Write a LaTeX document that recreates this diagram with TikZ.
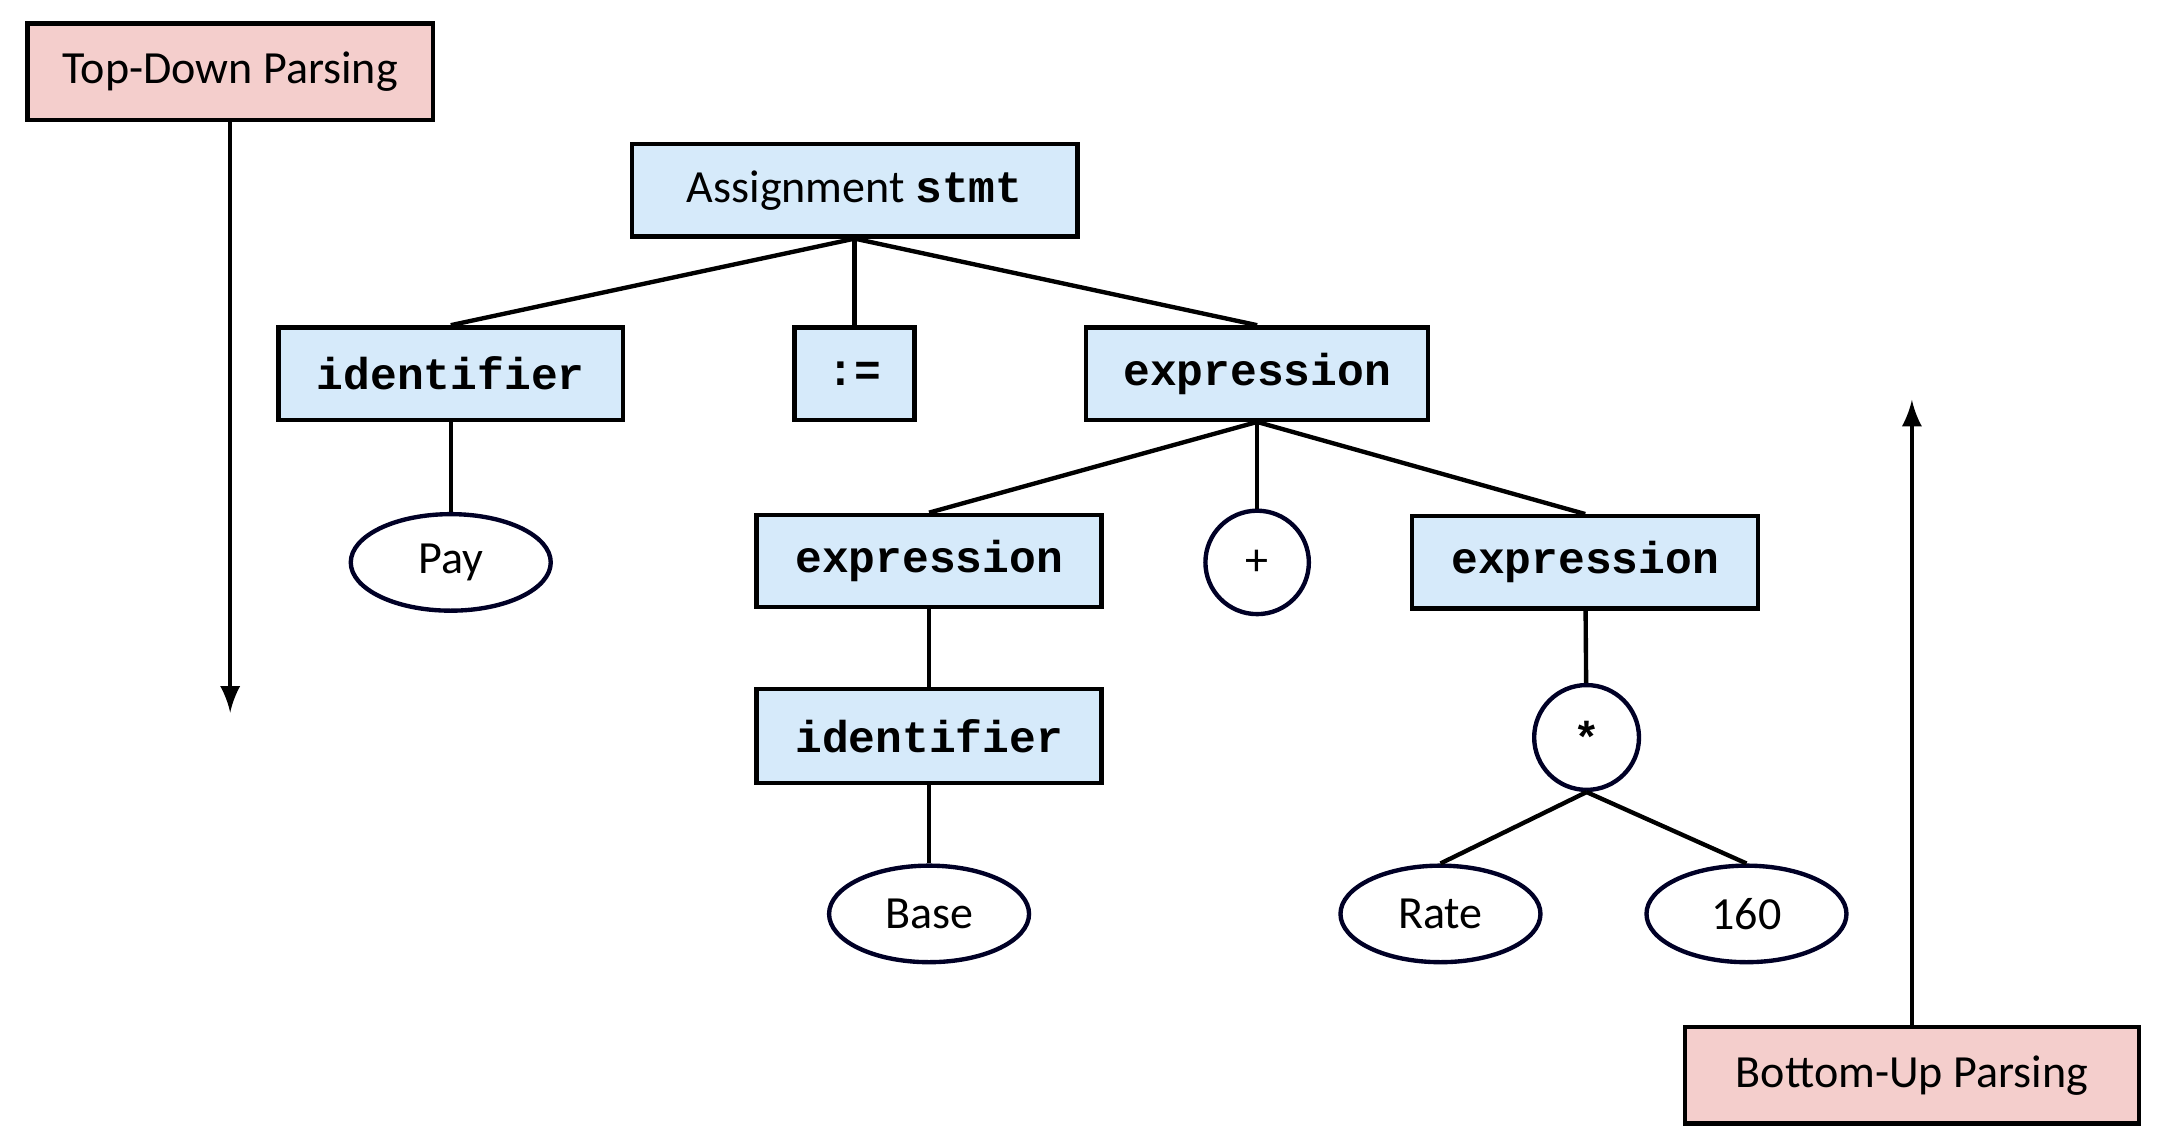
\documentclass[tikz,border=0pt]{standalone}
\usepackage{fontspec}
\setmainfont{Carlito}
\newfontfamily\codefont{Liberation Mono}
\usetikzlibrary{shapes.geometric}
\definecolor{boxblue}{RGB}{214,234,250}
\definecolor{boxpink}{RGB}{244,206,204}
\newcommand{\kw}[1]{{\codefont\bfseries\fontsize{9.2}{11}\selectfont #1}}
\begin{document}
\begin{tikzpicture}[x=0.01cm,y=-0.01cm,line width=0.9pt,
    font=\fontsize{9.5}{11}\selectfont,
    sym/.style={draw,fill=boxblue,minimum height=0.67cm,inner sep=0pt},
    leaf/.style={draw=black!85!blue,ellipse,minimum width=1.45cm,minimum height=0.7cm,inner sep=0pt},
    op/.style={draw=black!85!blue,circle,minimum size=0.75cm,inner sep=0pt},
    dir/.style={draw,fill=boxpink,minimum height=0.7cm,inner sep=0pt}]
    \useasboundingbox (0,0) rectangle (1567,830);

    \node[dir,minimum width=2.94cm] at (167,52) (topdown) {Top-Down Parsing};
    \node[dir,minimum width=3.29cm] at (1387,780) (bottomup) {Bottom-Up Parsing};
    \coordinate (tdend) at (167,517);
    \coordinate (buend) at (1387,290);

    \node[sym,minimum width=3.23cm] at (620,138) (stmt) {Assignment \kw{stmt}};
    \node[sym,minimum width=2.5cm] at (327,271) (ident) {\kw{identifier}};
    \node[sym,minimum width=0.87cm] at (620,271) (assign) {\kw{:=}};
    \node[sym,minimum width=2.48cm] at (912,271) (expr) {\kw{expression}};
    \node[leaf] at (327,408) (pay) {Pay};
    \node[sym,minimum width=2.5cm] at (674,407) (exprL) {\kw{expression}};
    \node[op] at (912,408) (plus) {+};
    \node[sym,minimum width=2.51cm] at (1150,408) (exprR) {\kw{expression}};
    \node[sym,minimum width=2.5cm,minimum height=0.68cm] at (674,534) (identB) {\kw{identifier}};
    \node[op,minimum size=0.76cm] at (1151,535) (times) {\kw{*}};
    \node[leaf] at (674,663) (base) {Base};
    \node[leaf] at (1045,663) (rate) {Rate};
    \node[leaf] at (1267,663) (num) {160};

    \draw[-latex] (topdown) to (tdend);
    \draw[-latex] (bottomup) to (buend);

    \draw (stmt.south) to (ident.north);
    \draw (stmt.south) to (assign.north);
    \draw (stmt.south) to (expr.north);
    \draw (ident) to (pay);
    \draw (expr.south) to (exprL.north);
    \draw (expr.south) to (plus.north);
    \draw (expr.south) to (exprR.north);
    \draw (exprL) to (identB);
    \draw (identB) to (base);
    \draw (exprR) to (times);
    \draw (times.south) to (rate.north);
    \draw (times.south) to (num.north);
  \end{tikzpicture}
\end{document}
